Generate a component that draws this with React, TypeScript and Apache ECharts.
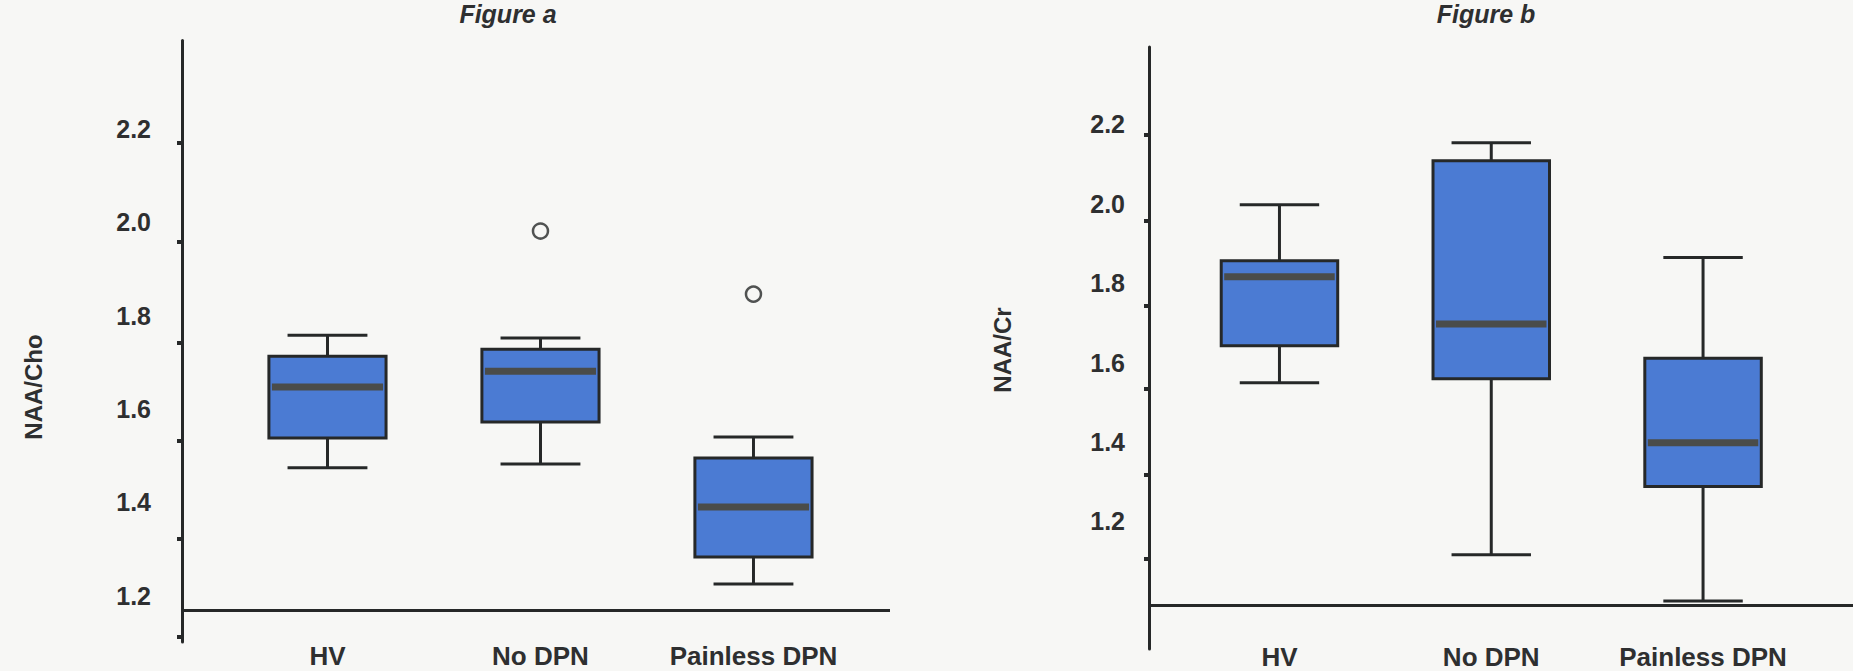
import React, { useEffect, useRef } from 'react';
import * as echarts from 'echarts';

// Groups shown on both panels
const categories = ['HV', 'No DPN', 'Painless DPN'];

// Figure a: NAA/Cho five-number summaries per group
const choMin = [1.474, 1.482, 1.225];
const choQ1 = [1.538, 1.572, 1.283];
const choMedian = [1.647, 1.681, 1.39];
const choQ3 = [1.713, 1.728, 1.495];
const choMax = [1.758, 1.752, 1.54];
const choOutliers = [
  [1, 1.981],
  [2, 1.846],
];

// Figure b: NAA/Cr five-number summaries per group
const crMin = [1.549, 1.116, 1.0];
const crQ1 = [1.642, 1.559, 1.288];
const crMedian = [1.816, 1.697, 1.398];
const crQ3 = [1.856, 2.108, 1.611];
const crMax = [1.997, 2.153, 1.864];

// Axis labels and the (slightly offset) tick marks of the printed axes
const yLabelValues = [1.2, 1.4, 1.6, 1.8, 2.0, 2.2];
const choTickValues = [1.112, 1.322, 1.532, 1.742, 1.957, 2.171];
const crTickValues = [1.107, 1.318, 1.533, 1.744, 1.956, 2.172];

// Axis extents and the level where the horizontal axis line is drawn
const choRange = { min: 1.101, max: 2.389, baseline: 1.174 };
const crRange = { min: 0.879, max: 2.394, baseline: 0.987 };
const choXRange = { min: -0.683, max: 2.641 };
const crXRange = { min: -0.616, max: 2.708 };

const INK = '#262828';
const TEXT = '#2e2f30';
const BOX_FILL = '#4b7bd3';
const MEDIAN = '#4a4c4a';
const FONT = '"Liberation Sans", Arial, Helvetica, sans-serif';
const BOX_WIDTH = 0.55; // in group units
const CAP_WIDTH = 0.375;

function buildRows(mins: number[], q1: number[], med: number[], q3: number[], max: number[]) {
  return categories.map((_, i) => [i, mins[i], q1[i], med[i], q3[i], max[i]]);
}

function renderBox(_params: any, api: any) {
  const x = api.value(0);
  const ys = [1, 2, 3, 4, 5].map((i) => api.coord([x, api.value(i)])[1]);
  const cx = api.coord([x, api.value(1)])[0];
  const [yLo, yQ1, yMed, yQ3, yHi] = ys;
  const halfBox = api.size([BOX_WIDTH, 0], [x, 0])[0] / 2;
  const halfCap = api.size([CAP_WIDTH, 0], [x, 0])[0] / 2;
  const line = { stroke: INK, lineWidth: 3 };
  return {
    type: 'group',
    children: [
      { type: 'line', shape: { x1: cx, y1: yQ1, x2: cx, y2: yLo }, style: line },
      { type: 'line', shape: { x1: cx, y1: yQ3, x2: cx, y2: yHi }, style: line },
      { type: 'line', shape: { x1: cx - halfCap, y1: yLo, x2: cx + halfCap, y2: yLo }, style: line },
      { type: 'line', shape: { x1: cx - halfCap, y1: yHi, x2: cx + halfCap, y2: yHi }, style: line },
      {
        type: 'rect',
        shape: { x: cx - halfBox, y: yQ3, width: halfBox * 2, height: yQ1 - yQ3 },
        style: { fill: BOX_FILL, stroke: INK, lineWidth: 3 },
      },
      {
        type: 'line',
        shape: { x1: cx - halfBox + 3, y1: yMed, x2: cx + halfBox - 3, y2: yMed },
        style: { stroke: MEDIAN, lineWidth: 7 },
      },
    ],
  };
}

function xAxisFor(gridIndex: number, range: { min: number; max: number }, margin: number) {
  return {
    type: 'value',
    gridIndex,
    min: range.min,
    max: range.max,
    axisLine: { show: false, onZero: false },
    axisTick: { show: false },
    splitLine: { show: false },
    axisLabel: {
      customValues: [0, 1, 2],
      formatter: (v: number) => categories[Math.round(v)] ?? '',
      margin,
      color: TEXT,
      fontSize: 26,
      fontWeight: 'bold',
      fontFamily: FONT,
    },
  };
}

function yAxisFor(
  gridIndex: number,
  range: { min: number; max: number },
  ticks: number[],
  margin: number
) {
  return {
    type: 'value',
    gridIndex,
    min: range.min,
    max: range.max,
    axisLine: { show: true, onZero: false, lineStyle: { color: INK, width: 3 } },
    axisTick: {
      show: true,
      length: 5,
      customValues: ticks,
      lineStyle: { color: INK, width: 4 },
    },
    splitLine: { show: false },
    axisLabel: {
      customValues: yLabelValues,
      formatter: (v: number) => v.toFixed(1),
      margin,
      color: TEXT,
      fontSize: 25,
      fontWeight: 'bold',
      fontFamily: FONT,
    },
  };
}

function boxSeries(index: number, rows: number[][], baseline: number) {
  return {
    type: 'custom',
    xAxisIndex: index,
    yAxisIndex: index,
    renderItem: renderBox,
    encode: { x: 0, y: [1, 2, 3, 4, 5] },
    data: rows,
    silent: true,
    z: 3,
    markLine: {
      silent: true,
      symbol: ['none', 'none'],
      label: { show: false },
      lineStyle: { color: INK, width: 3, type: 'solid' },
      emphasis: { disabled: true },
      data: [{ yAxis: baseline }],
    },
  };
}

function label(text: string, x: number, y: number, size: number, italic: boolean, rotate = 0) {
  return {
    type: 'text',
    x,
    y,
    rotation: rotate,
    silent: true,
    style: {
      text,
      font: `${italic ? 'italic ' : ''}bold ${size}px ${FONT}`,
      fill: TEXT,
      align: 'center',
      verticalAlign: 'middle',
      textAlign: 'center',
      textVerticalAlign: 'middle',
    },
  };
}

export default function App() {
  const ref = useRef<HTMLDivElement>(null);

  useEffect(() => {
    if (!ref.current) return;
    const chart = echarts.init(ref.current, undefined, { renderer: 'svg' });
    chart.setOption({
      animation: false,
      backgroundColor: '#f7f7f5',
      grid: [
        { left: 182, top: 40.5, width: 708, height: 601.5, containLabel: false },
        { left: 1149, top: 47, width: 704, height: 602, containLabel: false },
      ],
      xAxis: [xAxisFor(0, choXRange, 1), xAxisFor(1, crXRange, -5)],
      yAxis: [
        yAxisFor(0, choRange, choTickValues, 31),
        yAxisFor(1, crRange, crTickValues, 24),
      ],
      graphic: [
        label('Figure a', 508, 14, 25, true),
        label('Figure b', 1486, 14, 25, true),
        label('NAA/Cho', 33, 387, 24, false, Math.PI / 2),
        label('NAA/Cr', 1002, 350, 24, false, Math.PI / 2),
      ],
      series: [
        boxSeries(0, buildRows(choMin, choQ1, choMedian, choQ3, choMax), choRange.baseline),
        {
          type: 'scatter',
          xAxisIndex: 0,
          yAxisIndex: 0,
          data: choOutliers,
          symbol: 'circle',
          symbolSize: 15,
          silent: true,
          z: 4,
          itemStyle: { color: 'rgba(0,0,0,0)', borderColor: INK, borderWidth: 2.5 },
        },
        boxSeries(1, buildRows(crMin, crQ1, crMedian, crQ3, crMax), crRange.baseline),
      ],
    });
    return () => chart.dispose();
  }, []);

  return (
    <div
      ref={ref}
      style={{ position: 'absolute', left: 0, top: 0, width: 1853, height: 671 }}
    />
  );
}
